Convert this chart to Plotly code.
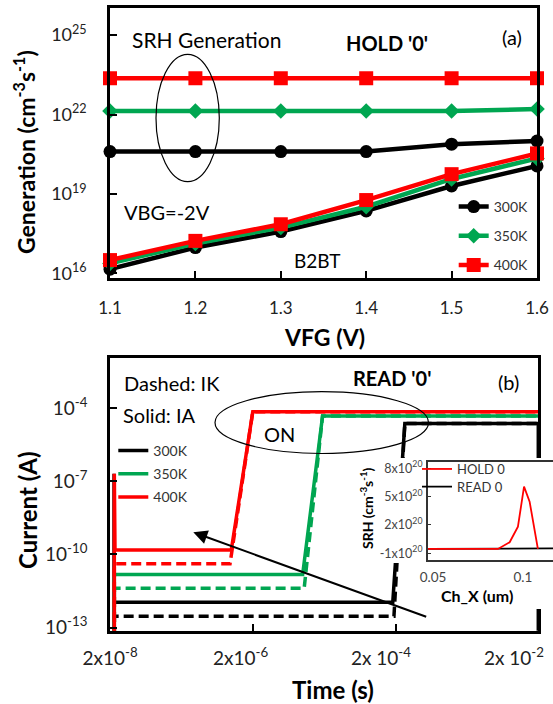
import plotly.graph_objects as go

W, H = 553, 704

# ---------------- Panel (a) data ----------------
vfg = [1.1, 1.2, 1.3, 1.4, 1.5, 1.6]
srh_300 = [4.0e20, 4.0e20, 4.0e20, 4.0e20, 7.6e20, 1.0e21]
srh_350 = [1.35e22, 1.35e22, 1.35e22, 1.35e22, 1.35e22, 1.62e22]
srh_400 = [2.34e23, 2.34e23, 2.34e23, 2.34e23, 2.34e23, 2.34e23]
b2bt_300 = [1.45e16, 9.5e16, 3.8e17, 2.3e18, 2.0e19, 1.15e20]
b2bt_350 = [2.4e16, 1.35e17, 5.4e17, 3.3e18, 3.7e19, 2.2e20]
b2bt_400 = [3.2e16, 1.7e17, 7.2e17, 5.9e18, 5.6e19, 3.4e20]

gen_ticks = [1e16, 1e19, 1e22, 1e25]
gen_ticktext = ["10<sup>16</sup>", "10<sup>19</sup>", "10<sup>22</sup>", "10<sup>25</sup>"]
vfg_ticktext = ["1.1", "1.2", "1.3", "1.4", "1.5", "1.6"]

# ---------------- Panel (b) data ----------------
t_300_ia = [2.28e-8, 2.28e-8, 2.3e-8, 2.3e-8, 1.83e-4, 2.7e-4, 2e-2, 2e-2]
i_300_ia = [1e-14, 2e-7, 2e-7, 1.1e-12, 1.1e-12, 2.3e-5, 2.3e-5, 1e-14]
t_300_ik = [2.3e-8, 2.3e-8, 1.9e-4, 2.7e-4, 2e-2]
i_300_ik = [1e-14, 2.9e-13, 2.9e-13, 2.3e-5, 2.3e-5]
t_350_ia = [2.3e-8, 2.3e-8, 1.0e-5, 1.9e-5, 2e-2]
i_350_ia = [1e-14, 1.5e-11, 1.5e-11, 4.7e-5, 4.7e-5]
t_350_ik = [2.3e-8, 2.3e-8, 1.05e-5, 1.9e-5, 2e-2]
i_350_ik = [1e-14, 4.1e-12, 4.1e-12, 4.7e-5, 4.7e-5]
t_400_ia = [2.3e-8, 2.3e-8, 2.35e-8, 1.0e-6, 2.0e-6, 2e-2]
i_400_ia = [1e-14, 2e-7, 1.5e-10, 1.5e-10, 7.0e-5, 7.0e-5]
t_400_ik = [2.3e-8, 2.3e-8, 9.6e-7, 2.0e-6, 2e-2]
i_400_ik = [1e-14, 4.1e-11, 4.1e-11, 7.0e-5, 7.0e-5]

NB = "&nbsp;"
time_ticks = [2e-8, 2e-6, 2e-4, 2e-2]
time_ticktext = ["2x10<sup>-8</sup>",
                 "2x10<sup>-6</sup>" + NB * 5,
                 "2x 10<sup>-4</sup>" + NB * 6,
                 "2x 10<sup>-2</sup>" + NB * 10]
cur_ticks = [1e-4, 1e-7, 1e-10, 1e-13]
cur_ticktext = ["10<sup>-4</sup>", "10<sup>-7</sup>", "10<sup>-10</sup>", "10<sup>-13</sup>"]

# ---------------- Inset data ----------------
chx_hold = [0.0472, 0.0861, 0.0926, 0.0972, 0.1006, 0.1037, 0.1083]
srh_hold = [-0.54e20, -0.54e20, 0.17e20, 1.82e20, 6.06e20, 4.47e20, -0.54e20]
chx_read = [0.0472, 0.100, 0.105, 0.1167]
srh_read = [-0.54e20, -0.54e20, -0.48e20, -0.48e20]
srh_ticks = [-1e20, 2e20, 5e20, 8e20]
srh_ticktext = ["-1x10<sup>20</sup>", "2x10<sup>20</sup>", "5x10<sup>20</sup>", "8x10<sup>20</sup>"]
chx_ticks = [0.05, 0.1]
chx_ticktext = ["0.05", "0.1"]

temps = ["300K", "350K", "400K"]
colors = {"300K": "#000000", "350K": "#00A651", "400K": "#FF0000"}
FONT = "Lato"


def px(x):
    return x / W


def py(y):
    return 1 - y / H


fig = go.Figure()

# Panel (a)
srh = {"300K": srh_300, "350K": srh_350, "400K": srh_400}
b2bt = {"300K": b2bt_300, "350K": b2bt_350, "400K": b2bt_400}
symbols = {"300K": "circle", "350K": "diamond", "400K": "square"}
msize = {"300K": 13, "350K": 12, "400K": 14}
for tk in temps:
    for k, ys in enumerate([srh[tk], b2bt[tk]]):
        fig.add_trace(go.Scatter(
            x=vfg, y=ys, mode="lines+markers", name=tk,
            line=dict(color=colors[tk], width=4.5),
            marker=dict(symbol=symbols[tk], size=msize[tk], color=colors[tk]),
            cliponaxis=False, showlegend=(k == 0), legendgroup="a" + tk,
            legend="legend", xaxis="x", yaxis="y"))

# Panel (b)
bdata = {
    "300K": (t_300_ia, i_300_ia, t_300_ik, i_300_ik),
    "350K": (t_350_ia, i_350_ia, t_350_ik, i_350_ik),
    "400K": (t_400_ia, i_400_ia, t_400_ik, i_400_ik),
}
for tk in temps:
    ta, ia, tkk, ikk = bdata[tk]
    fig.add_trace(go.Scatter(
        x=tkk, y=ikk, mode="lines", name=tk + " IK",
        line=dict(color=colors[tk], width=3.5, dash="10px,5px"),
        showlegend=False, xaxis="x2", yaxis="y2"))
    fig.add_trace(go.Scatter(
        x=ta, y=ia, mode="lines", name=tk,
        line=dict(color=colors[tk], width=3.5),
        showlegend=True, legendgroup="b" + tk, legend="legend2",
        xaxis="x2", yaxis="y2"))

# White backing panels of the inset chart (empty subplots)
fig.add_trace(go.Scatter(x=[], y=[], showlegend=False, xaxis="x3", yaxis="y3"))
fig.add_trace(go.Scatter(x=[], y=[], showlegend=False, xaxis="x4", yaxis="y4"))

# Inset
fig.add_trace(go.Scatter(x=chx_read, y=srh_read, mode="lines", name="READ 0",
                         line=dict(color="#000000", width=1.8),
                         legend="legend4", xaxis="x5", yaxis="y5"))
fig.add_trace(go.Scatter(x=chx_hold, y=srh_hold, mode="lines", name="HOLD 0",
                         line=dict(color="#FF0000", width=1.8),
                         legend="legend3", xaxis="x5", yaxis="y5"))


def frame_axis(size, **kw):
    d = dict(showline=True, linecolor="black", linewidth=2.5, mirror=True,
             ticks="inside", ticklen=7, tickwidth=2, tickcolor="black",
             showgrid=False, zeroline=False, ticklabeloverflow="allow",
             automargin=False,
             tickfont=dict(family=FONT, size=size, color="#222222"))
    d.update(kw)
    return d


hidden = dict(visible=False, range=[0, 1], showgrid=False, zeroline=False)

fig.update_layout(
    width=W, height=H,
    margin=dict(l=0, r=0, t=0, b=0, pad=0, autoexpand=False),
    paper_bgcolor="white", plot_bgcolor="white",
    font=dict(family=FONT, color="black"),
    xaxis=frame_axis(17, domain=[px(110), px(537)], anchor="y", range=[1.1, 1.6],
                     tickvals=vfg, ticktext=vfg_ticktext, ticklabelstandoff=13),
    yaxis=frame_axis(18, domain=[py(277.7), py(8.3)], anchor="x", type="log",
                     range=[15.84, 26.01], tickvals=gen_ticks, ticktext=gen_ticktext,
                     ticklabelstandoff=17),
    xaxis2=frame_axis(19, domain=[px(110), px(538.3)], anchor="y2", type="log",
                      range=[-7.699, -1.699], tickvals=time_ticks,
                      ticktext=time_ticktext, ticklabelstandoff=9),
    yaxis2=frame_axis(19, domain=[py(630.7), py(358.3)], anchor="x2", type="log",
                      range=[-13.13, -1.96], tickvals=cur_ticks,
                      ticktext=cur_ticktext, ticklabelstandoff=16),
    xaxis3=dict(domain=[px(358), 1.0], anchor="y3", **hidden),
    yaxis3=dict(domain=[py(563), py(458)], anchor="x3", **hidden),
    xaxis4=dict(domain=[px(420), 1.0], anchor="y4", **hidden),
    yaxis4=dict(domain=[py(609), py(562)], anchor="x4", **hidden),
    xaxis5=dict(domain=[px(428), 1.0], anchor="y5", range=[0.0472, 0.1167],
                tickvals=chx_ticks, ticktext=chx_ticktext, showline=True,
                linecolor="#333333", linewidth=2, mirror=True, ticks="",
                showgrid=False, zeroline=False, ticklabelstandoff=4,
                automargin=False,
                tickfont=dict(family=FONT, size=13.5, color="#444444")),
    yaxis5=dict(domain=[py(560), py(461.7)], anchor="x5", range=[-1.71e20, 8.7e20],
                tickvals=srh_ticks, ticktext=srh_ticktext, showline=True,
                linecolor="#333333", linewidth=2, mirror=False, ticks="inside",
                ticklen=3, tickwidth=1, tickcolor="#333333",
                showgrid=False, zeroline=False, ticklabelstandoff=1,
                automargin=False,
                tickfont=dict(family=FONT, size=12.5, color="#444444")),
    legend=dict(x=px(453.7), y=py(191), xanchor="left", yanchor="top",
                bgcolor="rgba(0,0,0,0)", traceorder="grouped", tracegroupgap=8,
                font=dict(family=FONT, size=14, color="#333333")),
    legend2=dict(x=px(113.3), y=py(435), xanchor="left", yanchor="top",
                 bgcolor="rgba(0,0,0,0)", traceorder="grouped", tracegroupgap=2,
                 font=dict(family=FONT, size=14, color="#333333")),
    legend3=dict(x=px(417), y=py(469), xanchor="left", yanchor="middle",
                 bgcolor="rgba(0,0,0,0)",
                 font=dict(family=FONT, size=13, color="#333333")),
    legend4=dict(x=px(417), y=py(486.7), xanchor="left", yanchor="middle",
                 bgcolor="rgba(0,0,0,0)",
                 font=dict(family=FONT, size=13, color="#333333")),
)


def ann(text, x, y, size, bold=False, angle=0, color="black"):
    fig.add_annotation(text=text, x=px(x), y=py(y), xref="paper", yref="paper",
                       xanchor="center", yanchor="middle", showarrow=False,
                       textangle=angle,
                       font=dict(family=FONT, size=size, color=color,
                                 weight="bold" if bold else "normal"))


# axis titles
ann("Generation (cm<sup>-3</sup>s<sup>-1</sup>)", 24, 152, 23, bold=True, angle=-90)
ann("VFG (V)", 324.5, 337, 23, bold=True)
ann("Current (A)", 27, 510, 24, bold=True, angle=-90)
ann("Time (s)", 332.5, 689, 24, bold=True)
ann("SRH (cm<sup>-3</sup>s<sup>-1</sup>)", 366, 508, 14, bold=True, angle=-90)
ann("Ch_X (um)", 477, 595, 16, bold=True)

# panel texts
ann("SRH Generation", 206, 39.3, 21)
ann("HOLD '0'", 387, 43.3, 20, bold=True)
ann("(a)", 511.5, 36.7, 20)
ann("VBG=-2V", 166.5, 211.7, 20)
ann("B2BT", 317.5, 260, 19)
ann("Dashed: IK", 171.8, 383.3, 20)
ann("Solid: IA", 159.2, 415, 20)
ann("READ '0'", 391.8, 378.3, 20, bold=True)
ann("(b)", 508.5, 381.7, 20)
ann("ON", 279.5, 434, 20)

# arrow
fig.add_annotation(x=px(193.3), y=py(532.3), xref="paper", yref="paper",
                   ax=427.7 - 193.3, ay=617.3 - 532.3, axref="pixel", ayref="pixel",
                   text="", showarrow=True, arrowhead=2, arrowsize=1.4,
                   arrowwidth=2, arrowcolor="black", standoff=0)

# ellipses
fig.add_shape(type="circle", xref="paper", yref="paper",
              x0=px(156), x1=px(219.3), y0=py(181.7), y1=py(54.3),
              line=dict(color="black", width=1.2))
fig.add_shape(type="circle", xref="paper", yref="paper",
              x0=px(215), x1=px(428.5), y0=py(453.5), y1=py(391.7),
              line=dict(color="black", width=1.2))

fig.write_html("out.html", config={"displayModeBar": False},
               post_script="document.body.style.margin='0';document.body.style.overflow='hidden';")
